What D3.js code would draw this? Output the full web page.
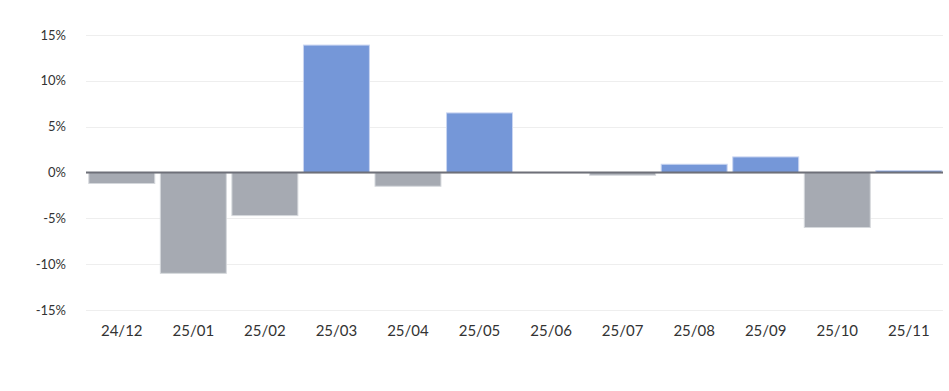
<!DOCTYPE html>
<html>
<head>
<meta charset="utf-8">
<script src="https://cdn.jsdelivr.net/npm/d3@7"></script>
<style>
  body { margin: 0; background: #fff; }
  #chart { width: 949px; height: 391px; }
  text { font-family: Lato, "Noto Sans", sans-serif; }
</style>
</head>
<body>
<div id="chart"></div>
<script>
// data (percent change per month)
const months = ['24/12', '25/01', '25/02', '25/03', '25/04', '25/05', '25/06', '25/07', '25/08', '25/09', '25/10', '25/11'];
const changes = [-1.2, -11.0, -4.7, 13.9, -1.5, 6.5, 0, -0.3, 0.9, 1.7, -6.0, 0.2];
const yTicks = [-15, -10, -5, 0, 5, 10, 15];

const width = 949, height = 391;
const margin = { top: 35, right: 6, bottom: 81, left: 86 };

const svg = d3.select('#chart')
    .append('svg')
    .attr('width', width)
    .attr('height', height);

const x = d3.scaleBand()
    .domain(months)
    .range([margin.left, margin.left + 858.6])
    .paddingInner(0.078)
    .paddingOuter(0.039);

const y = d3.scaleLinear()
    .domain([-15, 15])
    .range([height - margin.bottom, margin.top]);

// gridlines
svg.append('g')
    .selectAll('line')
    .data(yTicks)
    .join('line')
    .attr('x1', margin.left)
    .attr('x2', width - margin.right)
    .attr('y1', d => Math.round(y(d)) + 0.5)
    .attr('y2', d => Math.round(y(d)) + 0.5)
    .attr('stroke', '#eeeeee')
    .attr('stroke-width', 1);

// y labels
svg.append('g')
    .selectAll('text')
    .data(yTicks)
    .join('text')
    .attr('x', 66)
    .attr('y', d => y(d))
    .attr('dy', '0.35em')
    .attr('text-anchor', 'end')
    .attr('font-size', 13)
    .attr('fill', '#333')
    .text(d => d + '%');

// bars
svg.append('g')
    .selectAll('rect')
    .data(changes)
    .join('rect')
    .attr('x', (d, i) => x(months[i]))
    .attr('width', x.bandwidth())
    .attr('y', d => y(Math.max(0, d)))
    .attr('height', d => Math.abs(y(d) - y(0)))
    .attr('fill', d => d >= 0 ? '#7597d8' : '#a6aab2')
    .attr('stroke', d => d >= 0 ? '#c9d5f1' : '#d5d8dc')
    .attr('stroke-width', 1);

// zero line
svg.append('line')
    .attr('x1', margin.left)
    .attr('x2', width - margin.right)
    .attr('y1', y(0))
    .attr('y2', y(0))
    .attr('stroke', '#6e7079')
    .attr('stroke-width', 2);

// x labels
svg.append('g')
    .selectAll('text')
    .data(months)
    .join('text')
    .attr('x', d => x(d) + x.bandwidth() / 2)
    .attr('y', 336)
    .attr('text-anchor', 'middle')
    .attr('font-size', 15)
    .attr('fill', '#333')
    .text(d => d);
</script>
</body>
</html>
